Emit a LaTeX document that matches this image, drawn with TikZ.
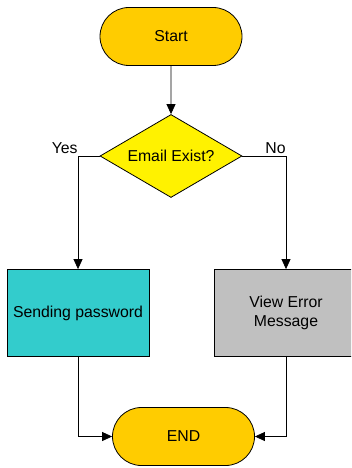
\documentclass[tikz,border=0pt]{standalone}
\usepackage{fontspec}
\setmainfont{Liberation Sans}
\usetikzlibrary{shapes.geometric,shapes.misc,arrows.meta}

\begin{document}
\begin{tikzpicture}[x=1pt,y=1pt,
  every node/.style={font=\fontsize{15.8}{18.5}\selectfont},
  line/.style={draw=black,line width=.8pt},
  arr/.style={line,-{Triangle[length=10pt,width=9pt]}},
  terminal/.style={rounded rectangle,draw,line width=.8pt,fill=termcol,
    minimum width=142pt,minimum height=58pt,inner sep=0pt},
  decision/.style={diamond,draw,line width=.8pt,fill=yellow,aspect=1.71,
    minimum width=142pt,minimum height=83pt,inner sep=0pt},
  process/.style={rectangle,draw,line width=.8pt,minimum width=142pt,
    minimum height=87pt,align=center,inner sep=0pt},
  branch/.style={above left,inner xsep=0pt,inner ysep=2pt}]
  \definecolor{termcol}{HTML}{FFCC00}
  \definecolor{sendcol}{HTML}{33CCCC}
  \definecolor{viewcol}{HTML}{C0C0C0}
  \clip (0,0) rectangle (351,-468);

  \node[terminal] (start) at (171,-36.5) {Start};
  \node[decision] (email) at (171,-156) {Email Exist?};
  \node[process,fill=sendcol] (send) at (78,-313) {Sending password};
  \node[process,fill=viewcol,minimum width=144pt] (view) at (286,-313)
    {View Error\\Message};
  \node[terminal] (stop) at (183.5,-436.5) {END};

  \draw[arr] (start) -- (email);
  \draw[arr] (email.west) -| node[pos=.5,branch]{Yes} (send.north);
  \draw[arr] (email.east) -| node[pos=.5,branch]{No} (view.north);
  \draw[arr] (send.south) |- (stop.west);
  \draw[arr] (view.south) |- (stop.east);

\end{tikzpicture}
\end{document}
